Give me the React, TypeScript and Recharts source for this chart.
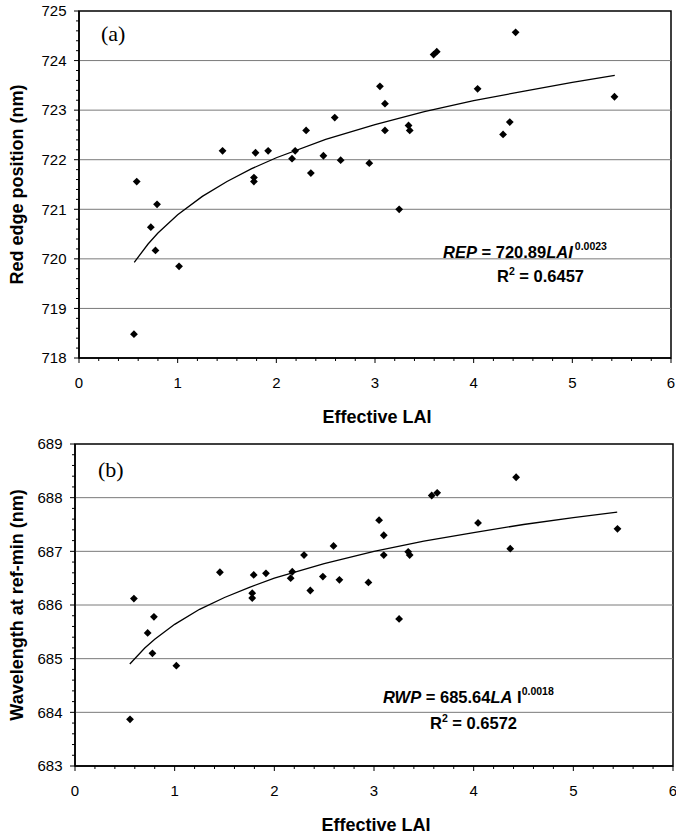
import React from 'react';
import { ScatterChart, Scatter, XAxis, YAxis, ReferenceLine, ReferenceArea } from 'recharts';

// ---------- data ----------
const laiA = [0.585, 0.557, 0.728, 0.791, 0.775, 1.014, 1.455, 1.773, 1.773, 1.789, 1.917, 2.159, 2.191, 2.302, 2.35, 2.477, 2.592, 2.652, 2.942, 3.05, 3.101, 3.101, 3.245, 3.34, 3.352, 3.594, 3.626, 4.04, 4.298, 4.366, 4.425, 5.427];
const repA = [721.56, 718.48, 720.64, 721.1, 720.17, 719.85, 722.18, 721.64, 721.56, 722.14, 722.18, 722.02, 722.18, 722.59, 721.73, 722.08, 722.85, 721.99, 721.93, 723.48, 723.13, 722.59, 721.0, 722.69, 722.59, 724.12, 724.18, 723.43, 722.51, 722.76, 724.57, 723.27];

const laiB = [0.591, 0.552, 0.729, 0.792, 0.777, 1.017, 1.454, 1.778, 1.778, 1.793, 1.916, 2.164, 2.18, 2.298, 2.361, 2.487, 2.594, 2.653, 2.944, 3.051, 3.098, 3.098, 3.252, 3.343, 3.358, 3.579, 3.634, 4.044, 4.367, 4.426, 5.443];
const rwpB = [686.12, 683.87, 685.48, 685.78, 685.1, 684.87, 686.61, 686.22, 686.13, 686.56, 686.59, 686.5, 686.62, 686.93, 686.27, 686.53, 687.1, 686.47, 686.42, 687.58, 687.3, 686.93, 685.74, 686.99, 686.93, 688.04, 688.09, 687.53, 687.05, 688.38, 687.42];

const trendLaiA = [0.56, 0.7, 0.8, 1, 1.25, 1.5, 1.75, 2, 2.5, 3, 3.5, 4, 4.5, 5, 5.43];
const trendRepA = [719.93, 720.3, 720.52, 720.89, 721.26, 721.56, 721.82, 722.04, 722.41, 722.71, 722.97, 723.19, 723.38, 723.56, 723.7];

const trendLaiB = [0.55, 0.7, 0.8, 1, 1.25, 1.5, 1.75, 2, 2.5, 3, 3.5, 4, 4.5, 5, 5.44];
const trendRwpB = [684.9, 685.2, 685.36, 685.64, 685.92, 686.14, 686.33, 686.5, 686.77, 687.0, 687.19, 687.35, 687.5, 687.63, 687.73];

const xMajorTicks = [0, 1, 2, 3, 4, 5, 6];
const yMajorTicksA = [718, 719, 720, 721, 722, 723, 724, 725];
const yMajorTicksB = [683, 684, 685, 686, 687, 688, 689];

// ---------- helpers ----------
const SANS = 'Liberation Sans, Arial, Helvetica, sans-serif';
const SERIF = 'Liberation Serif, Times New Roman, serif';

const toPoints = (xs: number[], ys: number[]) => xs.map((x, i) => ({ x, y: ys[i] }));
const withMinor = (major: number[], step: number) => {
  const out: number[] = [];
  for (let i = 0; i < major.length - 1; i++) {
    const n = Math.round((major[i + 1] - major[i]) / step);
    for (let k = 0; k < n; k++) out.push(+(major[i] + k * step).toFixed(4));
  }
  out.push(major[major.length - 1]);
  return out;
};
const isMajor = (v: number) => Math.abs(v - Math.round(v)) < 1e-6;

const Diamond = (props: any) => {
  const { cx, cy } = props;
  if (cx == null || cy == null) return <g />;
  const r = 3.9;
  return <polygon points={`${cx},${cy - r} ${cx + r},${cy} ${cx},${cy + r} ${cx - r},${cy}`} fill="#000" />;
};
const NoShape = () => <g />;

const YTick = (props: any) => {
  const { x, y, payload } = props;
  const v = payload.value;
  const maj = isMajor(v);
  return (
    <g>
      <line x1={x} x2={x - (maj ? 5 : 3)} y1={y} y2={y} stroke="#000" strokeWidth={1} />
      {maj && (
        <text x={x - 12.5} y={y + 5.3} textAnchor="end" fontSize={15} fontFamily={SANS} fill="#000">
          {Math.round(v)}
        </text>
      )}
    </g>
  );
};

const XTick = (props: any) => {
  const { x, y, payload } = props;
  const v = payload.value;
  const maj = isMajor(v);
  return (
    <g>
      <line x1={x} x2={x} y1={y} y2={y + (maj ? 5 : 3)} stroke="#000" strokeWidth={1} />
      {maj && (
        <text x={x} y={y + 29.5} textAnchor="middle" fontSize={15} fontFamily={SANS} fill="#000">
          {Math.round(v)}
        </text>
      )}
    </g>
  );
};

type PanelProps = {
  top: number;
  height: number;
  marginTop: number;
  marginRight: number;
  yAxisWidth: number;
  xAxisHeight: number;
  yMajor: number[];
  points: { x: number; y: number }[];
  trend: { x: number; y: number }[];
  yTitle: string;
};

const Panel = (p: PanelProps) => {
  const yMin = p.yMajor[0];
  const yMax = p.yMajor[p.yMajor.length - 1];
  const yTicks = withMinor(p.yMajor, 0.2);
  const xTicks = withMinor(xMajorTicks, 0.2);
  const yLabel = (props: any) => {
    const vb = props.viewBox;
    const cy = vb.y + vb.height / 2;
    return (
      <text x={23} y={cy} transform={`rotate(-90, 23, ${cy})`} textAnchor="middle" fontSize={18} fontWeight="bold" fontFamily={SANS} fill="#000">
        {p.yTitle}
      </text>
    );
  };
  const xLabel = (props: any) => {
    const vb = props.viewBox;
    const cx = vb.x + vb.width / 2 + 2;
    return (
      <text x={cx} y={vb.y + 65} textAnchor="middle" fontSize={18} fontWeight="bold" fontFamily={SANS} fill="#000">
        Effective LAI
      </text>
    );
  };
  return (
    <div style={{ position: 'absolute', left: 0, top: p.top }}>
      <ScatterChart width={676} height={p.height} margin={{ top: p.marginTop, right: p.marginRight, bottom: 0, left: 0 }}>
        <XAxis
          type="number"
          dataKey="x"
          domain={[0, 6]}
          ticks={xTicks}
          interval={0}
          tickSize={0}
          tickMargin={0}
          tick={<XTick />}
          height={p.xAxisHeight}
          axisLine={{ stroke: '#000', strokeWidth: 1.5 }}
          label={{ content: xLabel }}
          allowDataOverflow
        />
        <YAxis
          type="number"
          dataKey="y"
          domain={[yMin, yMax]}
          ticks={yTicks}
          interval={0}
          tickSize={0}
          tickMargin={0}
          tick={<YTick />}
          width={p.yAxisWidth}
          axisLine={{ stroke: '#000', strokeWidth: 1.5 }}
          label={{ content: yLabel }}
          allowDataOverflow
        />
        {p.yMajor.slice(1, -1).map((v) => (
          <ReferenceLine key={v} y={v} stroke="#7a7a7a" strokeWidth={1} />
        ))}
        <ReferenceArea x1={0} x2={6} y1={yMin} y2={yMax} fill="none" fillOpacity={0} stroke="#000" strokeWidth={1.5} />
        <Scatter data={p.trend} shape={<NoShape />} line={{ stroke: '#000', strokeWidth: 1.3 }} lineType="joint" isAnimationActive={false} />
        <Scatter data={p.points} shape={<Diamond />} isAnimationActive={false} />
      </ScatterChart>
    </div>
  );
};

export default function App() {
  const ptsA = toPoints(laiA, repA);
  const ptsB = toPoints(laiB, rwpB);
  const trA = toPoints(trendLaiA, trendRepA);
  const trB = toPoints(trendLaiB, trendRwpB);
  return (
    <div style={{ position: 'absolute', left: 0, top: 0, width: 676, height: 835, overflow: 'hidden', background: '#fff' }}>
      <Panel top={0} height={440} marginTop={11} marginRight={5} yAxisWidth={79} xAxisHeight={82} yMajor={yMajorTicksA} points={ptsA} trend={trA} yTitle="Red edge position (nm)" />
      <Panel top={420} height={415} marginTop={24} marginRight={3} yAxisWidth={75} xAxisHeight={69} yMajor={yMajorTicksB} points={ptsB} trend={trB} yTitle="Wavelength at ref-min (nm)" />
      <svg width={676} height={835} style={{ position: 'absolute', left: 0, top: 0, pointerEvents: 'none' }}>
        <text x={101} y={41} fontSize={22} fontFamily={SERIF} fill="#000">(a)</text>
        <text x={98} y={477} fontSize={22} fontFamily={SERIF} fill="#000">(b)</text>
        <text x={443} y={258} fontSize={16.5} fontWeight="bold" fontFamily={SANS} fill="#000">
          <tspan fontStyle="italic">REP</tspan>
          <tspan>{'  = 720.89'}</tspan>
          <tspan fontStyle="italic">LAI</tspan>
          <tspan fontSize={10.5} dy={-8} dx={2}>0.0023</tspan>
        </text>
        <text x={497} y={282} fontSize={16.5} fontWeight="bold" fontFamily={SANS} fill="#000">
          <tspan>R</tspan>
          <tspan fontSize={10.5} dy={-7}>2</tspan>
          <tspan dy={7}>{' = 0.6457'}</tspan>
        </text>
        <text x={383} y={703} fontSize={16.5} fontWeight="bold" fontFamily={SANS} fill="#000">
          <tspan fontStyle="italic">RWP</tspan>
          <tspan>{' = 685.64'}</tspan>
          <tspan fontStyle="italic">LA</tspan>
          <tspan>{' I'}</tspan>
          <tspan fontSize={10.5} dy={-8}>0.0018</tspan>
        </text>
        <text x={430} y={729} fontSize={16.5} fontWeight="bold" fontFamily={SANS} fill="#000">
          <tspan>R</tspan>
          <tspan fontSize={10.5} dy={-7}>2</tspan>
          <tspan dy={7}>{' = 0.6572'}</tspan>
        </text>
      </svg>
    </div>
  );
}
